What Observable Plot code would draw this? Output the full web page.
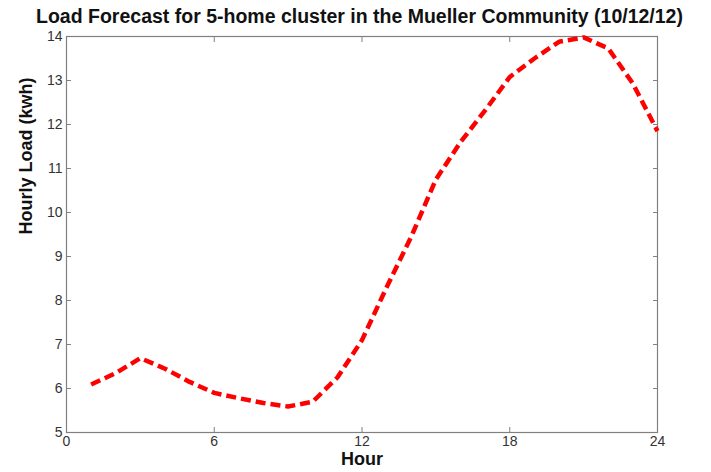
<!DOCTYPE html>
<html><head><meta charset="utf-8">
<script src="https://cdn.jsdelivr.net/npm/d3@7"></script>
<script src="https://cdn.jsdelivr.net/npm/@observablehq/plot@0.6"></script>
<style>
body{margin:0;background:#fff;font-family:Arial,"Liberation Sans",sans-serif;}
#title{height:30px;line-height:32px;text-align:center;font-weight:bold;font-size:19.5px;color:#111;padding-left:8px;white-space:nowrap;}
#chart svg{overflow:visible;}
</style></head>
<body>
<div id="title">Load Forecast for 5-home cluster in the Mueller Community (10/12/12)</div>
<div id="chart"></div>
<script>
const hours = [1,2,3,4,5,6,7,8,9,10,11,12,13,14,15,16,17,18,19,20,21,22,23,24];
const load = [6.09,6.35,6.69,6.45,6.15,5.9,5.78,5.67,5.59,5.7,6.25,7.1,8.3,9.45,10.75,11.6,12.32,13.08,13.5,13.88,13.98,13.73,12.93,11.85];
const xTicks = [0,6,12,18,24];
const yTicks = [5,6,7,8,9,10,11,12,13,14];
const data = hours.map((h,i)=>({hour:h, load:load[i]}));
const blank = () => "";

const plot = Plot.plot({
  width: 711, height: 442,
  marginLeft: 66, marginRight: 54, marginTop: 6, marginBottom: 40,
  style: {fontFamily: "Arial, 'Liberation Sans', sans-serif", fontSize: "14px", color: "#333"},
  x: {domain: [0,24], ticks: xTicks, label: null},
  y: {domain: [5,14], ticks: yTicks, label: null},
  marks: [
    Plot.axisX({anchor: "bottom", ticks: xTicks, tickSize: 0, tickPadding: 4, fill: "#333"}),
    Plot.axisY({anchor: "left", ticks: yTicks, tickSize: 0, tickPadding: 4, fill: "#333"}),
    Plot.axisX({anchor: "bottom", ticks: xTicks, tickSize: -5, tickFormat: blank, stroke: "#808080", label: null}),
    Plot.axisX({anchor: "top", ticks: xTicks, tickSize: -5, tickFormat: blank, stroke: "#808080", label: null}),
    Plot.axisY({anchor: "left", ticks: yTicks, tickSize: -5, tickFormat: blank, stroke: "#808080", label: null}),
    Plot.axisY({anchor: "right", ticks: yTicks, tickSize: -5, tickFormat: blank, stroke: "#808080", label: null}),
    Plot.frame({stroke: "#808080", strokeWidth: 1.2}),
    Plot.line(data, {x: "hour", y: "load", stroke: "#ff0000", strokeWidth: 4.5, strokeDasharray: "10,5", strokeLinecap: "butt", strokeLinejoin: "miter"}),
    Plot.text(["Hour"], {frameAnchor: "bottom", dy: 32, fontWeight: "bold", fontSize: 18, fill: "#111"}),
    Plot.text(["Hourly Load (kwh)"], {frameAnchor: "left", dx: -40, rotate: -90, fontWeight: "bold", fontSize: 18, fill: "#111"})
  ]
});
document.getElementById("chart").appendChild(plot);
</script>
</body></html>
